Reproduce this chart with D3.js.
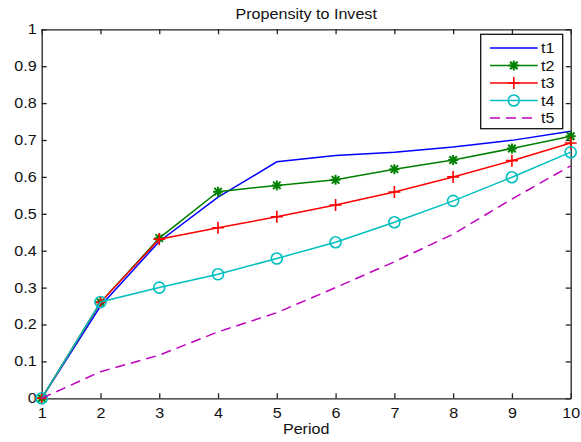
<!DOCTYPE html>
<html><head><meta charset="utf-8">
<script src="https://cdn.jsdelivr.net/npm/d3@7"></script>
<style>body{margin:0;background:#fff;}svg{display:block;font-family:"Liberation Sans",Arial,sans-serif;}</style>
</head><body>
<script>
const periods = [1,2,3,4,5,6,7,8,9,10];
const t1 = [0,0.25,0.425,0.545,0.641,0.658,0.667,0.681,0.699,0.724];
const t2 = [0,0.26,0.434,0.56,0.577,0.592,0.621,0.646,0.677,0.710];
const t3 = [0,0.26,0.431,0.462,0.492,0.524,0.559,0.600,0.644,0.692];
const t4 = [0,0.261,0.300,0.336,0.379,0.423,0.477,0.535,0.599,0.667];
const t5 = [0,0.072,0.117,0.180,0.232,0.300,0.370,0.445,0.540,0.630];
const seriesNames = ["t1","t2","t3","t4","t5"];
const yTicks = [0,0.1,0.2,0.3,0.4,0.5,0.6,0.7,0.8,0.9,1];
const yTickLabels = ["0","0.1","0.2","0.3","0.4","0.5","0.6","0.7","0.8","0.9","1"];
const title = "Propensity to Invest";
const xLabel = "Period";

const W=581,H=442;
const L=41.7,R=570.7,T=29.3,B=398.3;
const svg=d3.select("body").append("svg").attr("width",W).attr("height",H);
const x=d3.scaleLinear().domain([1,10]).range([L,R]);
const y=d3.scaleLinear().domain([0,1]).range([B,T]);

const styles={
 t1:{color:"#0000ff",marker:null,dash:null},
 t2:{color:"#008000",marker:"star",dash:null},
 t3:{color:"#ff0000",marker:"plus",dash:null},
 t4:{color:"#00bfbf",marker:"circle",dash:null},
 t5:{color:"#bf00bf",marker:null,dash:"10,6"}
};
const data={t1,t2,t3,t4,t5};

const axColor="#222";
const gB=svg.append("g").attr("transform",`translate(0,${B})`)
 .call(d3.axisBottom(x).tickValues(periods).tickFormat(d3.format("d")).tickSizeInner(-5).tickSizeOuter(0).tickPadding(10));
const gT=svg.append("g").attr("transform",`translate(0,${T})`)
 .call(d3.axisTop(x).tickValues(periods).tickFormat("").tickSizeInner(-5).tickSizeOuter(0));
const gL=svg.append("g").attr("transform",`translate(${L},0)`)
 .call(d3.axisLeft(y).tickValues(yTicks).tickFormat((d,i)=>yTickLabels[i]).tickSizeInner(-5).tickSizeOuter(0).tickPadding(5));
const gR=svg.append("g").attr("transform",`translate(${R},0)`)
 .call(d3.axisRight(y).tickValues(yTicks).tickFormat("").tickSizeInner(-5).tickSizeOuter(0));
[gB,gT,gL,gR].forEach(g=>{
 g.select(".domain").attr("stroke",axColor).attr("stroke-width",1.3);
 g.selectAll(".tick line").attr("stroke",axColor).attr("stroke-width",1.3);
 g.selectAll(".tick text").attr("fill","#111").attr("font-size",14).attr("font-family","Liberation Sans, Arial, sans-serif");
});

function drawMarker(g,type,cx,cy,color){
 if(type==="star"){
  const s=5;
  g.append("path").attr("d",`M${cx-s},${cy}H${cx+s}M${cx},${cy-s}V${cy+s}M${cx-s*0.75},${cy-s*0.75}L${cx+s*0.75},${cy+s*0.75}M${cx-s*0.75},${cy+s*0.75}L${cx+s*0.75},${cy-s*0.75}`)
   .attr("stroke",color).attr("stroke-width",2).attr("fill","none");
 } else if(type==="plus"){
  const s=6;
  g.append("path").attr("d",`M${cx-s},${cy}H${cx+s}M${cx},${cy-s}V${cy+s}`)
   .attr("stroke",color).attr("stroke-width",1.6).attr("fill","none");
 } else if(type==="circle"){
  g.append("circle").attr("cx",cx).attr("cy",cy).attr("r",5.5)
   .attr("stroke",color).attr("stroke-width",1.6).attr("fill","none");
 }
}

const line=d3.line().x((d,i)=>x(periods[i])).y(d=>y(d));
const plot=svg.append("g");
seriesNames.forEach(n=>{
 const st=styles[n];
 plot.append("path").datum(data[n]).attr("d",line).attr("fill","none")
  .attr("stroke",st.color).attr("stroke-width",1.5)
  .attr("stroke-dasharray",st.dash);
 if(st.marker){
  data[n].forEach((v,i)=>drawMarker(plot,st.marker,x(periods[i]),y(v),st.color));
 }
});

svg.append("text").attr("x",(L+R)/2).attr("y",19).attr("text-anchor","middle")
 .attr("font-size",14).attr("fill","#111").text(title);
svg.append("text").attr("x",(L+R)/2).attr("y",434).attr("text-anchor","middle")
 .attr("font-size",14).attr("fill","#111").text(xLabel);

const lg=svg.append("g");
lg.append("rect").attr("x",480.7).attr("y",34.3).attr("width",82).attr("height",94.4)
 .attr("fill","#fff").attr("stroke","#111").attr("stroke-width",1.3);
seriesNames.forEach((n,i)=>{
 const st=styles[n];
 const ly=48+i*17.5;
 lg.append("line").attr("x1",490).attr("x2",537.7).attr("y1",ly).attr("y2",ly)
  .attr("stroke",st.color).attr("stroke-width",1.5).attr("stroke-dasharray",st.dash);
 if(st.marker) drawMarker(lg,st.marker,513.8,ly,st.color);
 lg.append("text").attr("x",541).attr("y",ly+5).attr("font-size",14).attr("fill","#111").text(n);
});

// widen glyphs horizontally to match the reference's wider lettering
svg.selectAll("text").each(function(){
 const t=this; const len=t.getComputedTextLength();
 if(len>0){ t.setAttribute("textLength",(len*1.15).toFixed(2)); t.setAttribute("lengthAdjust","spacingAndGlyphs"); }
});
</script>
</body></html>
